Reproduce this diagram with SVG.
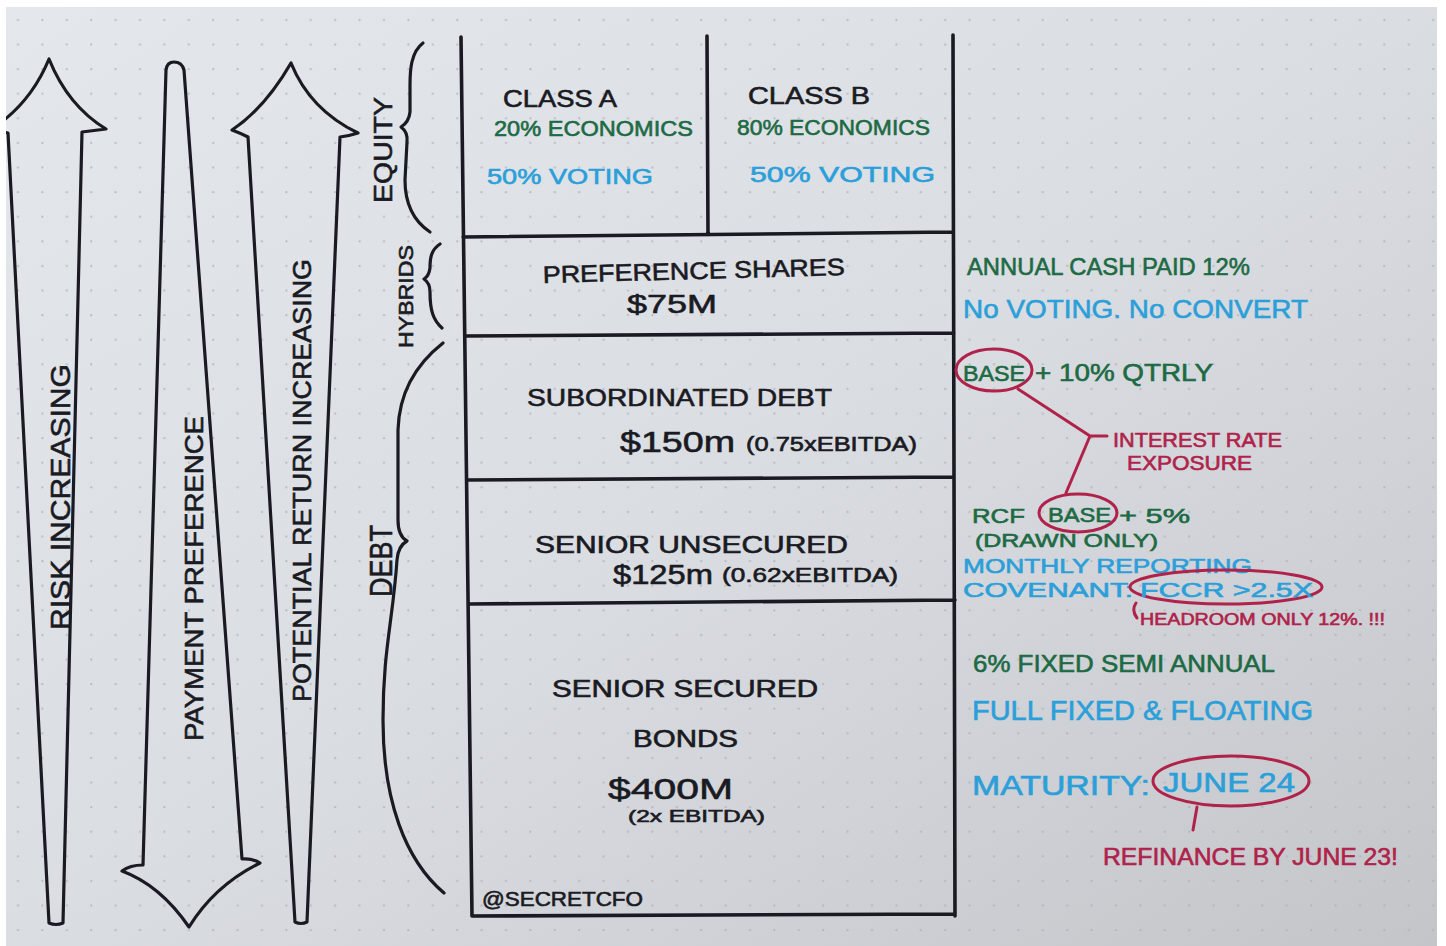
<svg xmlns="http://www.w3.org/2000/svg" width="1446" height="946" viewBox="0 0 1446 946">
<style>
.ink{fill:none;stroke:#1a1a22;stroke-width:3.2;stroke-linecap:round;stroke-linejoin:round}
.tbl{fill:none;stroke:#1a1a22;stroke-width:3.6;stroke-linecap:round}
.red{fill:none;stroke:#b0224a;stroke-width:3;stroke-linecap:round;stroke-linejoin:round}
text{font-family:"Liberation Sans",Arial,sans-serif;stroke-width:0.6;paint-order:stroke}
.k{fill:#1a1a22;stroke:#1a1a22}
.g{fill:#1d6a44;stroke:#1d6a44}
.b{fill:#2b9fd9;stroke:#2b9fd9}
.r{fill:#b0224a;stroke:#b0224a}
</style>
<defs>
<linearGradient id="paper" x1="0" y1="0" x2="1" y2="1">
<stop offset="0" stop-color="#e4e8ed"/>
<stop offset="0.5" stop-color="#dadde2"/>
<stop offset="1" stop-color="#c3c5c9"/>
</linearGradient>
<pattern id="dots" patternUnits="userSpaceOnUse" x="6" y="8" width="24.4" height="24.6">
<circle cx="12" cy="12" r="1.1" fill="#a9adb4" opacity="0.75"/>
</pattern>
<clipPath id="pc"><rect x="6" y="7" width="1431" height="939"/></clipPath>
</defs>
<rect width="1446" height="946" fill="#ffffff"/>
<rect x="6" y="7" width="1431" height="939" fill="url(#paper)"/>
<rect x="6" y="7" width="1431" height="939" fill="url(#dots)"/>
<g clip-path="url(#pc)">
<g id="arrow-risk">
<path class="ink" d="M49,923 L8,133 L-10,130 Q30,105 49,59 Q68,106 106,129 L82,132 L63,923 Q56,926 49,923 Z"/>
<text class="k" transform="translate(70,630) rotate(-90)" font-size="28" textLength="266" lengthAdjust="spacingAndGlyphs">RISK INCREASING</text>
</g>
<g id="arrow-payment">
<path class="ink" d="M143,865 L166,70 Q167,62 174,62 Q182,62 184,70 L242,859 Q252,858 260,863 Q215,885 189,927 Q160,885 122,871 Q130,865 143,865 Z"/>
<text class="k" transform="translate(203,741) rotate(-90)" font-size="26" textLength="325" lengthAdjust="spacingAndGlyphs">PAYMENT PREFERENCE</text>
</g>
<g id="arrow-return">
<path class="ink" d="M295,922 L248,137 Q240,133 232,130 Q265,108 291,63 Q310,110 358,133 Q349,136 340,137 L307,922 Q301,925 295,922 Z"/>
<text class="k" transform="translate(311,702) rotate(-90)" font-size="26" textLength="443" lengthAdjust="spacingAndGlyphs">POTENTIAL RETURN INCREASING</text>
</g>
<g id="brace-equity">
<path class="ink" d="M423,43 C411,52 410,70 410,85 L410,112 Q409,122 401,127 Q408,132 407,142 L405,180 C405,205 415,222 430,232"/>
<text class="k" transform="translate(392,203) rotate(-90)" font-size="26" textLength="106" lengthAdjust="spacingAndGlyphs">EQUITY</text>
</g>
<g id="brace-hybrids">
<path class="ink" d="M440,244 C431,250 430,258 430,268 Q429,276 424,279 Q430,283 430,292 C430,310 433,320 442,328"/>
<text class="k" transform="translate(413,348) rotate(-90)" font-size="21" textLength="103" lengthAdjust="spacingAndGlyphs">HYBRIDS</text>
</g>
<g id="brace-debt">
<path class="ink" d="M443,343 C415,365 399,395 398,430 L398,520 Q398,536 407,541 Q398,546 397,560 C393,620 383,650 383,720 C383,800 405,860 444,893"/>
<text class="k" transform="translate(392,597) rotate(-90)" font-size="32" textLength="72" lengthAdjust="spacingAndGlyphs">DEBT</text>
</g>
<g id="table-frame">
<path class="tbl" d="M461,37 L472,916 M953,35 L955,916 M707,36 L708,235 M463,237 L953,232 M465,336 L954,333 M467,480 L954,477 M469,604 L955,600 M472,916 L955,914"/>
</g>
<g id="class-a">
<text class="k" x="503" y="107" font-size="24" textLength="114" lengthAdjust="spacingAndGlyphs">CLASS  A</text>
<text class="g" x="494" y="136" font-size="22" textLength="199" lengthAdjust="spacingAndGlyphs">20% ECONOMICS</text>
<text class="b" x="487" y="184" font-size="22" textLength="166" lengthAdjust="spacingAndGlyphs">50% VOTING</text>
</g>
<g id="class-b">
<text class="k" x="748" y="104" font-size="24" textLength="122" lengthAdjust="spacingAndGlyphs">CLASS  B</text>
<text class="g" x="737" y="135" font-size="22" textLength="193" lengthAdjust="spacingAndGlyphs">80% ECONOMICS</text>
<text class="b" x="750" y="182" font-size="22" textLength="185" lengthAdjust="spacingAndGlyphs">50% VOTING</text>
</g>
<g id="preference-shares">
<text class="k" x="543" y="283" font-size="24" textLength="302" lengthAdjust="spacingAndGlyphs" transform="rotate(-1.5 543 283)">PREFERENCE SHARES</text>
<text class="k" x="627" y="313" font-size="26" textLength="90" lengthAdjust="spacingAndGlyphs">$75M</text>
</g>
<g id="subordinated-debt">
<text class="k" x="527" y="406" font-size="24" textLength="305" lengthAdjust="spacingAndGlyphs">SUBORDINATED DEBT</text>
<text class="k" x="620" y="452" font-size="30" textLength="115" lengthAdjust="spacingAndGlyphs">$150m</text>
<text class="k" x="746" y="451" font-size="20" textLength="171" lengthAdjust="spacingAndGlyphs">(0.75xEBITDA)</text>
</g>
<g id="senior-unsecured">
<text class="k" x="535" y="553" font-size="23" textLength="313" lengthAdjust="spacingAndGlyphs">SENIOR  UNSECURED</text>
<text class="k" x="613" y="584" font-size="28" textLength="100" lengthAdjust="spacingAndGlyphs">$125m</text>
<text class="k" x="722" y="582" font-size="20" textLength="176" lengthAdjust="spacingAndGlyphs">(0.62xEBITDA)</text>
</g>
<g id="senior-secured">
<text class="k" x="552" y="697" font-size="23" textLength="266" lengthAdjust="spacingAndGlyphs">SENIOR  SECURED</text>
<text class="k" x="633" y="747" font-size="23" textLength="105" lengthAdjust="spacingAndGlyphs">BONDS</text>
<text class="k" x="608" y="799" font-size="30" textLength="125" lengthAdjust="spacingAndGlyphs">$400M</text>
<text class="k" x="628" y="822" font-size="16" textLength="137" lengthAdjust="spacingAndGlyphs">(2x EBITDA)</text>
<text class="k" x="482" y="906" font-size="20" textLength="161" lengthAdjust="spacingAndGlyphs">@SECRETCFO</text>
</g>
<g id="note-preference">
<text class="g" x="967" y="275" font-size="24" textLength="283" lengthAdjust="spacingAndGlyphs">ANNUAL CASH PAID 12%</text>
<text class="b" x="963" y="318" font-size="26" textLength="345" lengthAdjust="spacingAndGlyphs">No VOTING.  No CONVERT</text>
</g>
<g id="note-subordinated">
<ellipse class="red" cx="994" cy="370" rx="38" ry="21"/>
<text class="g" x="963" y="381" font-size="22" textLength="62" lengthAdjust="spacingAndGlyphs">BASE</text>
<text class="g" x="1035" y="381" font-size="24" textLength="178" lengthAdjust="spacingAndGlyphs">+ 10% QTRLY</text>
</g>
<g id="note-interest">
<text class="r" x="1113" y="447" font-size="20" textLength="169" lengthAdjust="spacingAndGlyphs">INTEREST RATE</text>
<text class="r" x="1127" y="470" font-size="20" textLength="125" lengthAdjust="spacingAndGlyphs">EXPOSURE</text>
</g>
<g id="note-unsecured">
<text class="g" x="972" y="523" font-size="21" textLength="53" lengthAdjust="spacingAndGlyphs">RCF</text>
<ellipse class="red" cx="1078" cy="513" rx="39" ry="19"/>
<text class="g" x="1048" y="522" font-size="20" textLength="63" lengthAdjust="spacingAndGlyphs">BASE</text>
<text class="g" x="1119" y="523" font-size="21" textLength="71" lengthAdjust="spacingAndGlyphs">+ 5%</text>
<text class="g" x="975" y="547" font-size="19" textLength="183" lengthAdjust="spacingAndGlyphs">(DRAWN ONLY)</text>
<text class="b" x="963" y="573" font-size="20" textLength="289" lengthAdjust="spacingAndGlyphs">MONTHLY REPORTING</text>
<text class="b" x="963" y="597" font-size="20" textLength="170" lengthAdjust="spacingAndGlyphs">COVENANT:</text>
<ellipse class="red" cx="1226" cy="587" rx="96" ry="17"/>
<text class="b" x="1140" y="597" font-size="21" textLength="173" lengthAdjust="spacingAndGlyphs">FCCR &gt;2.5X</text>
<text class="r" x="1140" y="625" font-size="16" textLength="245" lengthAdjust="spacingAndGlyphs">HEADROOM ONLY 12%. !!!</text>
</g>
<g id="note-secured">
<text class="g" x="973" y="672" font-size="24" textLength="302" lengthAdjust="spacingAndGlyphs">6% FIXED SEMI ANNUAL</text>
<text class="b" x="972" y="720" font-size="27" textLength="341" lengthAdjust="spacingAndGlyphs">FULL FIXED &amp; FLOATING</text>
<text class="b" x="972" y="795" font-size="27" textLength="178" lengthAdjust="spacingAndGlyphs">MATURITY:</text>
<ellipse class="red" cx="1231" cy="781" rx="78" ry="25"/>
<text class="b" x="1163" y="792" font-size="28" textLength="132" lengthAdjust="spacingAndGlyphs">JUNE 24</text>
<text class="r" x="1103" y="865" font-size="24" textLength="295" lengthAdjust="spacingAndGlyphs">REFINANCE BY JUNE 23!</text>
</g>
<g id="connectors">
<path class="red" d="M1018,389 L1090,436 L1107,436 M1090,436 L1066,493"/>
<path class="red" d="M1136,603 Q1131,610 1137,618"/>
<path class="red" d="M1197,807 L1193,830"/>
</g>
</g>
</svg>
